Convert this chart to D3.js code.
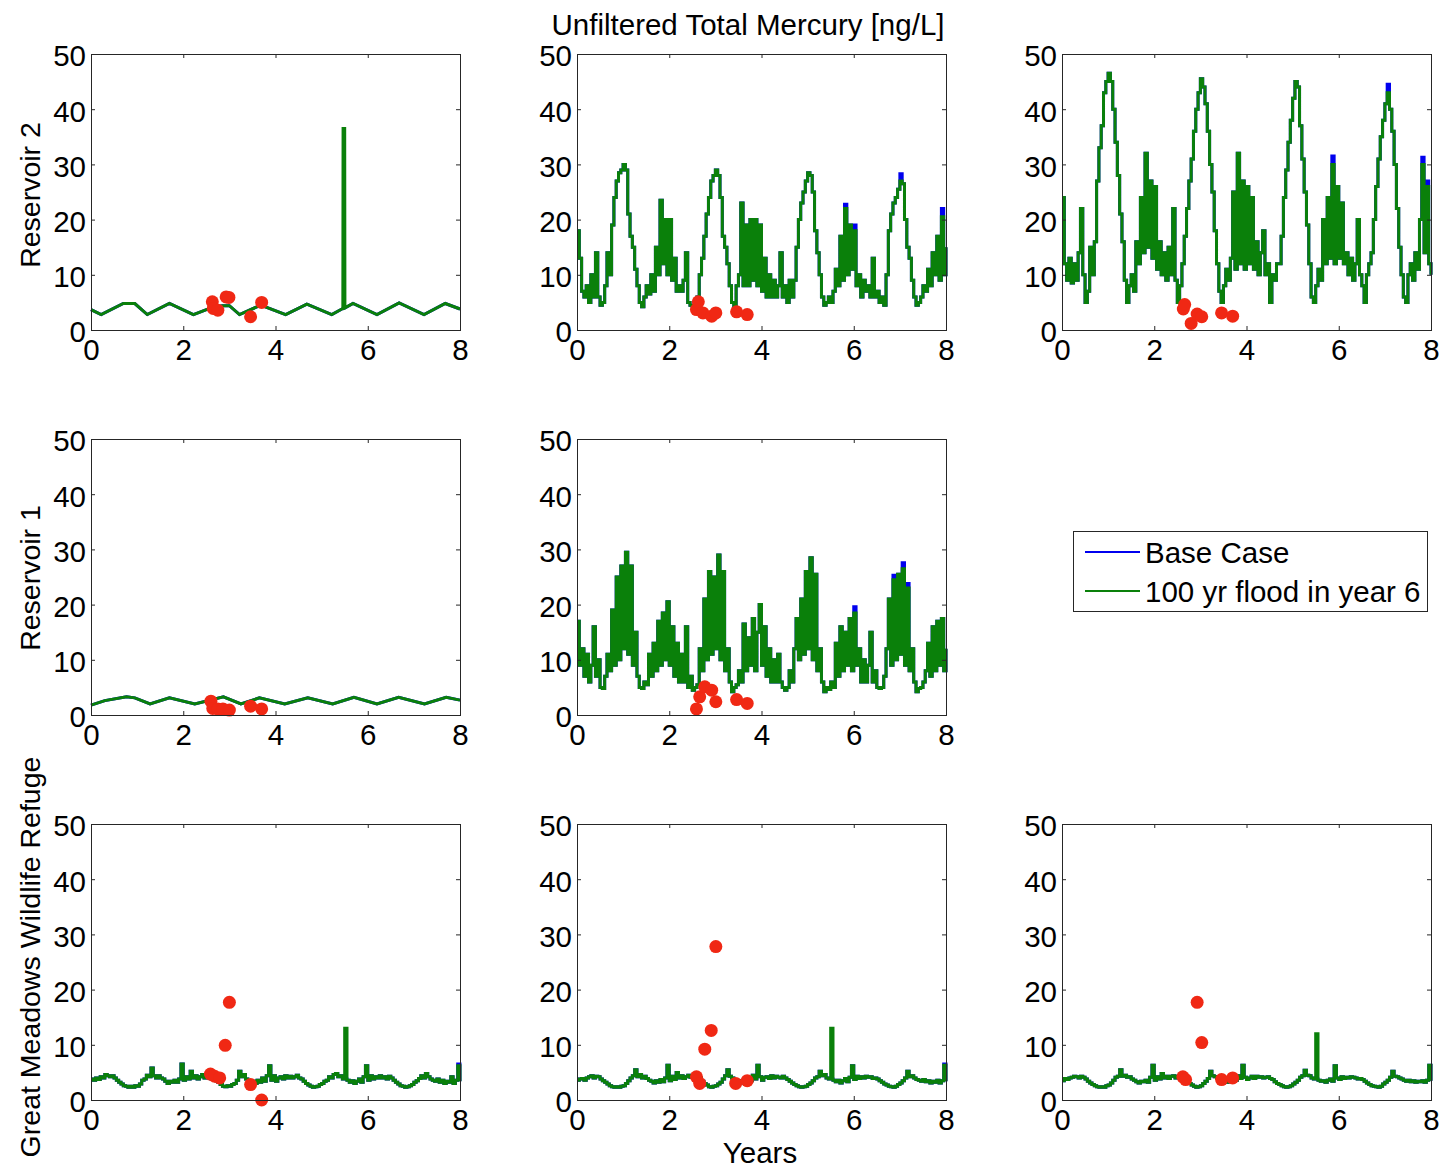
<!DOCTYPE html>
<html>
<head>
<meta charset="utf-8">
<script src="https://cdn.jsdelivr.net/npm/d3@7"></script>
<style>
  body { margin: 0; background: #fff; }
  text { font-family: "Liberation Sans", Arial, sans-serif; fill: #000; }
</style>
</head>
<body>
<svg id="chart" width="1444" height="1169"></svg>
<script>
/* Unfiltered total mercury, 3x3 subplot grid (MATLAB look)
   green = 100 yr flood in year 6, blue = base case (only shows where it differs)
   red dots = field samples
*/

const yearTicks = [0, 2, 4, 6, 8];
const concTicks = [0, 10, 20, 30, 40, 50];
const legendLabels = ["Base Case", "100 yr flood in year 6"];
const rowLabels = ["Reservoir 2", "Reservoir 1", "Great Meadows Wildlife Refuge"];

// dense series are sampled every 0.05 yr (161 values, 0..8)
const denseYears = d3.range(161).map(i => +(i * 0.05).toFixed(2));

// ---- Reservoir 2, column 1 (smooth seasonal wave + flood spike) ----
const r2aYears = [0, 0.22, 0.7, 0.95, 1.22, 1.7, 2.22, 2.6, 2.85, 3.0, 3.22, 3.68, 4.22, 4.68, 5.22,
  5.46, 5.465, 5.5, 5.505, 5.68, 6.2, 6.68, 7.22, 7.68, 8.0];
const r2aFlood = [3.7, 2.8, 4.8, 4.8, 2.8, 4.8, 2.8, 4.0, 4.4, 4.4, 2.8, 4.5, 2.8, 4.7, 2.8,
  3.9, 36.5, 36.5, 4.0, 4.8, 2.8, 4.9, 2.8, 4.8, 3.8];
const r2aBaseFix = [[5.465, 3.92], [5.5, 3.97]];
const r2aSamples = [[2.63, 5.1], [2.65, 3.9], [2.75, 3.6], [2.93, 6.0], [2.99, 5.9], [3.46, 2.4], [3.70, 5.0]];

// ---- Reservoir 2, column 2 ----
const r2bFlood = [
  18, 13, 7, 6, 8, 5, 10, 6, 14, 6,
  4.5, 5, 8, 14, 10, 19, 24, 27, 28.5, 29,
  30, 29, 21, 17, 15, 11, 8, 5, 4.2, 6,
  8, 6.5, 10, 7, 15, 10, 23.5, 12, 20, 10,
  20, 9, 13, 7, 8, 7, 9, 14, 5, 4.5,
  4, 5, 6, 10, 13, 17, 21, 24, 27, 28,
  29, 28, 24, 17, 15, 12, 8, 5, 4.2, 8,
  10, 23, 8, 19, 8, 20, 9, 20, 8, 19,
  7, 13, 6, 10, 6, 9, 6, 8, 14, 6,
  8, 5, 9, 6, 9, 15, 20, 23, 25, 27,
  28.5, 28, 25, 18, 14, 10, 6, 4.5, 5, 6,
  5, 7, 11, 8, 17, 9, 22, 10, 19, 11,
  18, 8, 10, 6, 9, 7, 8, 6, 13, 6,
  7, 5, 6, 4.5, 10, 18, 21, 23, 24, 25.5,
  27, 26.5, 20, 15, 13, 9, 6, 4.5, 5, 6,
  8, 7, 11, 8, 14, 10, 17, 9, 20.5, 10,
  15];
const r2bBaseFix = [[5.8, 22.8], [6.0, 19], [7.0, 28.3], [7.9, 22]];
const r2bSamples = [[2.59, 3.7], [2.63, 5.1], [2.73, 3.1], [2.92, 2.5], [3.01, 3.1], [3.46, 3.3], [3.69, 2.8]];

// ---- Reservoir 2, column 3 ----
const r2cFlood = [
  24, 12, 9, 13, 8.5, 12, 9, 14, 22, 10,
  5, 7, 15, 10, 16, 27, 33, 37, 43, 45,
  46.5, 45, 40, 34, 28, 21, 16, 9, 5, 8,
  10, 7, 16, 12, 24, 14, 32, 15, 27, 13,
  26, 11, 16, 10, 14, 9, 15, 10, 22, 9,
  5, 8, 12, 17, 22, 27, 31, 36, 40, 43,
  45.5, 44, 41, 36, 30, 25, 18, 12, 7, 5,
  8, 11, 9, 13, 25, 11, 32, 12, 27, 11,
  26, 12, 24, 11, 16, 10, 14, 18, 10, 12,
  5, 10, 9, 12, 12, 17, 24, 29, 34, 38,
  42, 45, 44, 37, 31, 25, 19, 12, 6, 5,
  8, 11, 9, 20, 12, 24, 13, 30, 12, 26,
  13, 23, 12, 14, 10, 13, 9, 12, 20, 10,
  8, 5, 10, 12, 14, 20, 26, 31, 35, 38,
  41, 43, 40, 36, 30, 22, 15, 10, 6, 5,
  10, 12, 9, 14, 11, 20, 30, 14, 26, 12,
  10];
const r2cBaseFix = [[5.85, 31.5], [7.05, 44.5], [7.8, 31.3], [7.9, 27]];
const r2cSamples = [[2.63, 3.8], [2.66, 4.6], [2.80, 1.2], [2.93, 2.9], [3.03, 2.4], [3.46, 3.1], [3.70, 2.5]];

// ---- Reservoir 1, column 1 (smooth) ----
const r1aYears = [0, 0.3, 0.77, 0.95, 1.28, 1.7, 2.25, 2.87, 3.25, 3.65, 4.2, 4.7, 5.24, 5.7, 6.2, 6.67, 7.23, 7.7, 8.0];
const r1aFlood = [1.8, 2.6, 3.3, 3.1, 2.0, 3.1, 2.0, 3.3, 2.0, 3.1, 2.0, 3.1, 2.0, 3.2, 2.0, 3.2, 2.0, 3.2, 2.7];
const r1aBaseFix = [];
const r1aSamples = [[2.60, 2.5], [2.64, 1.2], [2.75, 1.1], [2.86, 1.1], [3.00, 0.9], [3.46, 1.6], [3.70, 1.1]];

// ---- Reservoir 1, column 2 ----
const r1bFlood = [
  17, 9, 12, 7, 11, 6, 9, 16, 7, 10,
  5, 4.8, 7, 11, 8, 19, 9, 25, 10, 27,
  12, 29.5, 11, 27, 9, 15, 7, 5, 4.8, 6,
  5.5, 11, 7, 13, 8, 17, 9, 18.5, 10, 20.5,
  9, 16, 7, 13, 6, 11, 6, 16, 5, 7,
  4.5, 5, 5.5, 12, 8, 21, 10, 26, 11, 25,
  12, 29, 10, 26, 8, 12, 6, 4.2, 5, 5.5,
  8, 6, 16.5, 8, 14, 9, 17.5, 8, 15, 20,
  9, 16, 7, 12, 6, 10, 6, 11, 6, 5,
  4.5, 5, 8, 6, 12, 17.5, 10, 21, 11, 26,
  12, 28.5, 10, 25.5, 8, 12, 6, 4.2, 5, 4.6,
  6, 5, 13, 7, 16, 8, 15, 9, 17.5, 8,
  18.5, 9, 12, 6, 10, 6, 9, 15, 6, 8,
  5, 4.8, 5, 7, 12, 21, 9, 24.5, 10, 25.5,
  11, 26.5, 9, 23, 8, 12, 6, 4.2, 4.8, 5,
  6, 8, 13, 7, 16, 8, 17, 9, 17.5, 8,
  12];
const r1bBaseFix = [[6.0, 19.6], [6.85, 25.3], [7.05, 27.6], [7.15, 23.8]];
const r1bSamples = [[2.59, 1.1], [2.66, 3.3], [2.77, 5.1], [2.92, 4.5], [3.01, 2.4], [3.46, 2.8], [3.69, 2.1]];

// ---- Great Meadows, columns 1-3 ----
const gmaFlood = [
  3.8, 3.6, 4.0, 3.7, 4.2, 4.0, 4.6, 4.4, 4.2, 4.4,
  4.0, 3.6, 3.2, 2.9, 2.6, 2.5, 2.3, 2.5, 2.3, 2.6,
  2.5, 2.9, 3.6, 3.8, 4.5, 4.2, 5.8, 4.4, 4.0, 4.4,
  4.0, 3.8, 3.4, 3.0, 3.4, 3.2, 3.6, 3.2, 3.8, 6.5,
  3.6, 4.2, 3.8, 5.2, 4.0, 4.4, 3.8, 4.2, 4.6, 4.0,
  4.3, 4.0, 3.8, 4.2, 3.5, 3.2, 2.8, 2.5, 2.4, 2.6,
  2.5, 2.8, 3.0, 3.6, 5.2, 4.2, 4.6, 3.8, 3.4, 3.2,
  3.4, 3.0, 3.6, 3.2, 4.0, 3.4, 4.4, 6.2, 3.6, 4.4,
  3.4, 4.0, 4.2, 3.8, 4.4, 4.0, 4.3, 4.0, 4.2, 4.5,
  4.0, 3.8, 3.4, 3.0, 2.7, 2.5, 2.3, 2.4, 2.5, 2.8,
  3.0, 3.4, 3.6, 4.2, 4.0, 4.6, 4.8, 4.2, 4.4, 3.8,
  13, 3.6, 3.2, 3.5, 3.0, 3.4, 3.8, 3.2, 4.2, 6.2,
  3.6, 4.4, 3.8, 4.2, 4.0, 4.4, 4.0, 4.2, 3.8, 4.3,
  4.0, 3.6, 3.2, 2.9, 2.6, 2.5, 2.3, 2.4, 2.6, 2.8,
  3.2, 3.5, 3.9, 4.4, 4.0, 4.8, 4.2, 3.8, 3.6, 3.4,
  3.8, 3.2, 3.6, 3.0, 3.4, 3.2, 4.2, 3.0, 3.6, 6.2,
  3.4];
const gmaBaseFix = [[5.5, 3.8], [7.95, 6.5]];
const gmaSamples = [[2.59, 4.7], [2.68, 4.3], [2.79, 4.0], [2.91, 9.9], [3.00, 17.7], [3.46, 2.8], [3.70, 0]];

const gmbFlood = [
  3.6, 3.8, 3.9, 3.6, 4.0, 4.2, 4.4, 4.0, 4.3, 4.2,
  3.8, 3.5, 3.2, 2.9, 2.6, 2.4, 2.3, 2.4, 2.3, 2.5,
  2.6, 3.0, 3.5, 4.0, 4.4, 5.5, 4.2, 4.6, 4.0, 4.3,
  3.9, 3.6, 3.4, 3.1, 3.5, 3.2, 3.7, 3.3, 4.0, 6.3,
  3.5, 4.3, 3.7, 5.0, 4.0, 4.4, 3.9, 4.2, 4.5, 4.1,
  4.3, 3.9, 3.8, 4.0, 3.4, 3.0, 2.7, 2.4, 2.3, 2.5,
  2.6, 2.9, 3.2, 3.8, 4.4, 5.5, 4.3, 4.0, 3.6, 3.3,
  3.5, 3.1, 3.6, 3.3, 4.0, 3.5, 4.5, 3.8, 6.3, 4.2,
  3.6, 4.1, 4.2, 3.9, 4.4, 4.0, 4.3, 4.1, 4.0, 4.3,
  4.0, 3.7, 3.4, 3.1, 2.8, 2.6, 2.4, 2.3, 2.4, 2.5,
  2.8, 3.1, 3.5, 4.0, 4.2, 5.2, 4.4, 4.6, 4.0, 3.8,
  13, 3.6, 3.3, 3.6, 3.1, 3.5, 3.9, 3.3, 4.1, 6.2,
  3.7, 4.3, 3.9, 4.2, 4.0, 4.3, 4.1, 4.2, 3.9, 4.0,
  3.8, 3.5, 3.2, 2.9, 2.7, 2.5, 2.4, 2.3, 2.5, 2.8,
  3.1, 3.5, 4.0, 5.2, 4.2, 4.4, 4.0, 3.7, 3.6, 3.4,
  3.7, 3.3, 3.5, 3.1, 3.4, 3.2, 3.6, 3.1, 3.5, 6.3,
  3.4];
const gmbBaseFix = [[5.5, 3.8], [7.95, 6.5]];
const gmbSamples = [[2.59, 4.2], [2.66, 3.0], [2.77, 9.2], [2.91, 12.6], [3.01, 27.8], [3.44, 3.0], [3.69, 3.5]];

const gmcFlood = [
  3.5, 3.9, 3.7, 4.0, 4.1, 4.3, 4.2, 4.0, 4.3, 4.1,
  3.8, 3.4, 3.1, 2.8, 2.6, 2.4, 2.3, 2.4, 2.3, 2.6,
  2.7, 3.1, 3.6, 4.1, 4.3, 5.5, 4.3, 4.5, 4.1, 4.2,
  3.8, 3.6, 3.3, 3.1, 3.4, 3.3, 3.6, 3.2, 4.1, 6.3,
  3.6, 4.2, 3.8, 4.8, 4.0, 4.3, 3.9, 4.3, 4.4, 4.0,
  4.2, 3.9, 3.7, 4.0, 3.4, 3.0, 2.7, 2.5, 2.3, 2.4,
  2.6, 3.0, 3.4, 3.9, 5.2, 4.4, 4.2, 3.9, 3.5, 3.3,
  3.4, 3.2, 3.5, 3.3, 3.9, 3.6, 4.4, 3.9, 6.3, 4.1,
  3.7, 4.0, 4.3, 3.9, 4.3, 4.1, 4.2, 4.0, 4.1, 4.2,
  3.9, 3.7, 3.3, 3.0, 2.8, 2.6, 2.4, 2.3, 2.4, 2.6,
  2.9, 3.2, 3.6, 4.1, 4.4, 5.4, 4.5, 4.4, 4.0, 3.8,
  12, 3.6, 3.4, 3.5, 3.2, 3.6, 3.8, 3.4, 6.2, 4.0,
  3.7, 4.2, 3.9, 4.1, 4.0, 4.2, 4.1, 4.0, 3.8, 3.9,
  3.7, 3.4, 3.1, 2.8, 2.6, 2.5, 2.4, 2.3, 2.5, 2.9,
  3.2, 3.6, 4.1, 5.2, 4.3, 4.2, 4.0, 3.8, 3.6, 3.4,
  3.6, 3.3, 3.5, 3.2, 3.4, 3.3, 3.5, 3.2, 3.6, 6.3,
  3.5];
const gmcBaseFix = [[5.5, 3.8]];
const gmcSamples = [[2.62, 4.2], [2.68, 3.7], [2.93, 17.7], [3.03, 10.4], [3.46, 3.7], [3.70, 4.0]];

// panel table built from the arrays above
const panels = [
  { row: 0, col: 0, years: r2aYears, flood: r2aFlood, baseFix: r2aBaseFix, samples: r2aSamples, stepped: false },
  { row: 0, col: 1, years: denseYears, flood: r2bFlood, baseFix: r2bBaseFix, samples: r2bSamples, stepped: true },
  { row: 0, col: 2, years: denseYears, flood: r2cFlood, baseFix: r2cBaseFix, samples: r2cSamples, stepped: true },
  { row: 1, col: 0, years: r1aYears, flood: r1aFlood, baseFix: r1aBaseFix, samples: r1aSamples, stepped: false },
  { row: 1, col: 1, years: denseYears, flood: r1bFlood, baseFix: r1bBaseFix, samples: r1bSamples, stepped: true },
  { row: 2, col: 0, years: denseYears, flood: gmaFlood, baseFix: gmaBaseFix, samples: gmaSamples, stepped: true },
  { row: 2, col: 1, years: denseYears, flood: gmbFlood, baseFix: gmbBaseFix, samples: gmbSamples, stepped: true },
  { row: 2, col: 2, years: denseYears, flood: gmcFlood, baseFix: gmcBaseFix, samples: gmcSamples, stepped: true }
];

// ---- layout ----
const colX = [91, 577, 1062];
const rowY = [54, 439, 824];
const rowLabelY = [195, 578, 957];
const plotW = 369, plotH = 276;
const fontSize = 29.5;
const axisColor = "#262626";
const baseColor = "#0000ee";
const floodColor = "#0a800a";
const sampleColor = "#f02814";

const svg = d3.select("#chart");

const x = d3.scaleLinear().domain([0, 8]).range([0, plotW]);
const y = d3.scaleLinear().domain([0, 50]).range([plotH, 0]);

function makeLine(stepped)
{
  return d3.line()
    .x(function (d) { return x(d[0]); })
    .y(function (d) { return y(d[1]); })
    .curve(stepped ? d3.curveStepAfter : d3.curveLinear);
}

// base case = flood series with the few values where the two differ
function baseSeries(p)
{
  return p.years.map(function (t, i)
  {
    const fix = p.baseFix.find(function (f) { return Math.abs(f[0] - t) < 1e-6; });
    return [t, fix ? fix[1] : p.flood[i]];
  });
}

function styleAxis(g)
{
  g.select(".domain").remove();
  g.selectAll(".tick line").attr("stroke", axisColor).attr("stroke-width", 1);
  g.selectAll(".tick text").style("font-size", fontSize + "px").attr("fill", "#000");
}

panels.forEach(function (p)
{
  const g = svg.append("g")
    .attr("transform", "translate(" + colX[p.col] + "," + rowY[p.row] + ")");

  const line = makeLine(p.stepped);
  const floodPts = p.years.map(function (t, i) { return [t, p.flood[i]]; });

  g.append("path")
    .attr("d", line(baseSeries(p)))
    .attr("fill", "none")
    .attr("stroke", baseColor)
    .attr("stroke-width", 3);

  g.append("path")
    .attr("d", line(floodPts))
    .attr("fill", "none")
    .attr("stroke", floodColor)
    .attr("stroke-width", 3);

  g.selectAll("circle.sample")
    .data(p.samples)
    .join("circle")
    .attr("class", "sample")
    .attr("cx", function (d) { return x(d[0]); })
    .attr("cy", function (d) { return y(d[1]); })
    .attr("r", 6.5)
    .attr("fill", sampleColor);

  // box + inward ticks on all four sides
  g.append("g")
    .attr("transform", "translate(0," + plotH + ")")
    .call(d3.axisBottom(x).tickValues(yearTicks).tickSizeInner(-4).tickSizeOuter(0).tickPadding(9))
    .call(styleAxis)
    .selectAll(".tick text").attr("dy", "0.72em");

  g.append("g")
    .call(d3.axisTop(x).tickValues(yearTicks).tickSizeInner(-4).tickSizeOuter(0).tickFormat(""))
    .call(styleAxis);

  g.append("g")
    .call(d3.axisLeft(y).tickValues(concTicks).tickSizeInner(-4).tickSizeOuter(0).tickPadding(5))
    .call(styleAxis)
    .selectAll(".tick text").attr("dy", "0.4em");

  g.append("g")
    .attr("transform", "translate(" + plotW + ",0)")
    .call(d3.axisRight(y).tickValues(concTicks).tickSizeInner(-4).tickSizeOuter(0).tickFormat(""))
    .call(styleAxis);

  g.append("rect")
    .attr("x", 0.5).attr("y", 0.5)
    .attr("width", plotW).attr("height", plotH)
    .attr("fill", "none")
    .attr("stroke", axisColor)
    .attr("stroke-width", 1);
});

// row labels
rowLabels.forEach(function (label, r)
{
  svg.append("text")
    .attr("transform", "translate(40," + rowLabelY[r] + ") rotate(-90)")
    .attr("text-anchor", "middle")
    .style("font-size", "28.5px")
    .text(label);
});

svg.append("text")
  .attr("x", 748).attr("y", 35)
  .attr("text-anchor", "middle")
  .style("font-size", fontSize + "px")
  .text("Unfiltered Total Mercury [ng/L]");

svg.append("text")
  .attr("x", 760).attr("y", 1163)
  .attr("text-anchor", "middle")
  .style("font-size", fontSize + "px")
  .text("Years");

// legend in the empty middle-right slot
const legend = svg.append("g").attr("transform", "translate(1073,531)");
legend.append("rect")
  .attr("x", 0.5).attr("y", 0.5)
  .attr("width", 354).attr("height", 80)
  .attr("fill", "#fff")
  .attr("stroke", axisColor);

[baseColor, floodColor].forEach(function (c, i)
{
  const ly = 21 + i * 39;
  legend.append("line")
    .attr("x1", 12).attr("x2", 67)
    .attr("y1", ly).attr("y2", ly)
    .attr("stroke", c)
    .attr("stroke-width", 2);
  legend.append("text")
    .attr("x", 72).attr("y", ly)
    .attr("dy", "0.36em")
    .style("font-size", fontSize + "px")
    .text(legendLabels[i]);
});
</script>
</body>
</html>
